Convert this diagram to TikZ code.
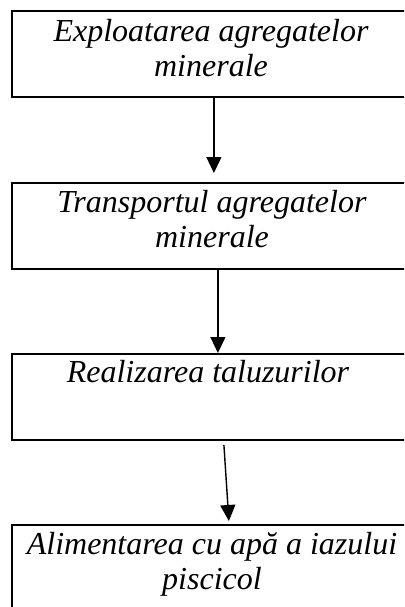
\documentclass[tikz,border=0pt]{standalone}
\usepackage{fontspec}
\setmainfont{Liberation Serif}
\usetikzlibrary{arrows.meta}
\begin{document}
\begin{tikzpicture}[x=1pt,y=-1pt,
  box/.style={draw,line width=1.8pt,minimum width=400pt,minimum height=86pt,inner sep=0pt,anchor=north west},
  lbl/.style={font=\fontsize{32}{35}\selectfont\itshape,align=center,anchor=base,inner sep=0pt},
  arr/.style={line width=1.4pt,-{Triangle[length=16pt,width=15pt]}}]
\useasboundingbox (0,0) rectangle (404,607);
\clip (0,0) rectangle (404,607);
\node[box] (b1) at (11,10) {};
\node[box] (b2) at (11,182) {};
\node[box] (b3) at (11,353) {};
\node[box] (b4) at (11,524) {};
\node[lbl] (t1) at (211,77) {Exploatarea agregatelor\\minerale};
\node[lbl] (t2) at (212,247) {Transportul agregatelor\\minerale};
\node[lbl] (t3) at (208,382) {Realizarea taluzurilor};
\node[lbl] (t4) at (212,589) {Alimentarea cu apă a iazului\\piscicol};
\draw[arr] ([xshift=2pt]b1.south) -- ([xshift=2pt,yshift=9pt]b2.north);
\draw[arr] ([xshift=6pt]b2.south) -- ([xshift=6pt]b3.north);
\draw[arr] ([xshift=12pt,yshift=-4pt]b3.south) -- ([xshift=17pt,yshift=3pt]b4.north);
\end{tikzpicture}
\end{document}
